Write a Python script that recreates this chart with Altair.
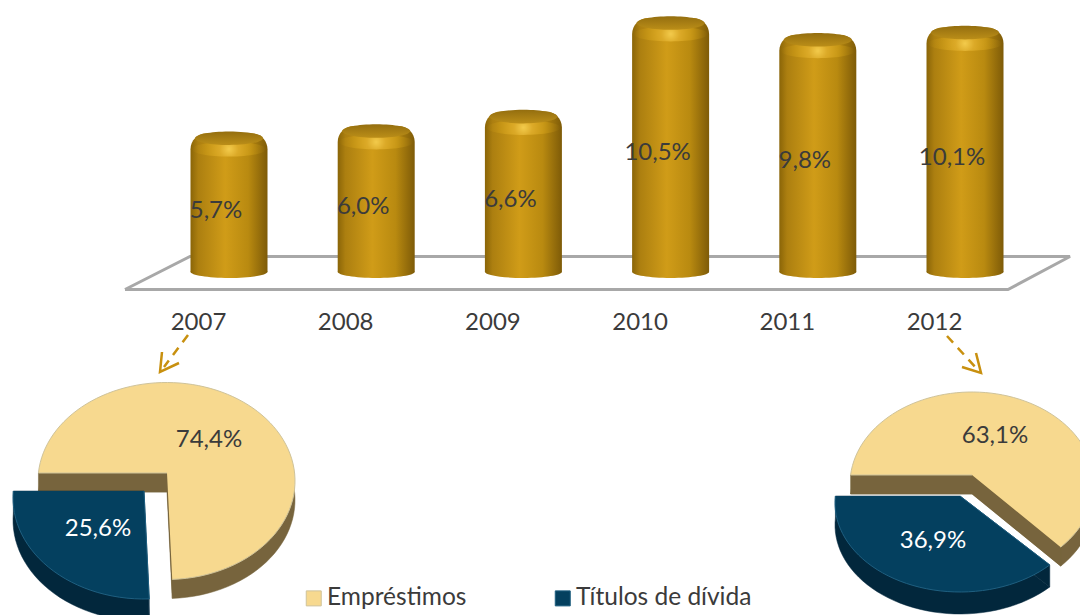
import math
import altair as alt
import pandas as pd

# ---- values ----
years = [2007, 2008, 2009, 2010, 2011, 2012]
rates = [5.7, 6.0, 6.6, 10.5, 9.8, 10.1]
rate_labels = ["5,7%", "6,0%", "6,6%", "10,5%", "9,8%", "10,1%"]
series_names = ["Empréstimos", "Títulos de dívida"]
shares_2007 = [74.4, 25.6]
shares_2012 = [63.1, 36.9]

# ---- layout (screen pixels of the picture) ----
W, H = 1072, 607
FONT = "Lato"
TXT = "#3b3b3b"
YEAR_DOMAIN = [2005.4986, 2012.7812]
RATE_DOMAIN = [-14.5, 10.7917]
pie_layout = [
    # shares, light slice ellipse, dark slice ellipse: (cx, cy, rx, ry, apex_x, apex_y)
    (shares_2007, (166.5, 481, 128.5, 98.5, 167, 473), (144, 498, 131, 101, 144, 491)),
    (shares_2012, (972, 484, 122, 92, 972, 475), (960, 503, 125, 89, 960, 496)),
]
DEPTHS = [19, 22]


def outline(geo, a0, sweep):
    cx, cy, rx, ry, ax, ay = geo
    n = max(2, int(abs(sweep) / 3))
    pts = [(ax, ay)]
    a = (ax - cx) / rx
    b = (ay - cy) / ry
    for k in range(n + 1):
        t = math.radians(a0 + sweep * k / n)
        dx, dy = math.sin(t), -math.cos(t)
        q = a * dx + b * dy
        s = -q + math.sqrt(q * q - (a * a + b * b - 1))
        pts.append((ax + rx * s * dx, ay + ry * s * dy))
    return pts


faces, walls = [], []
for p, (shares, light, dark) in enumerate(pie_layout):
    sweep_light = shares[0] * 3.6
    sl = outline(light, 270, sweep_light)
    sd = outline(dark, 270 + sweep_light - 360, shares[1] * 3.6)
    for name, pts, depth in ((series_names[0], sl, DEPTHS[0]), (series_names[1], sd, DEPTHS[1])):
        part = f"{p}-{name}"
        for i, (x, y) in enumerate(pts):
            faces.append(dict(x=x, y=y, i=i, part=part, series=name))
            walls.append(dict(x=x, y=y + depth, i=i, part=part + "-b", series=name))
        for tag, e in (("s", pts[1]), ("e", pts[-1])):
            quad = [pts[0], e, (e[0], e[1] + depth), (pts[0][0], pts[0][1] + depth)]
            for i, (x, y) in enumerate(quad):
                walls.append(dict(x=x, y=y, i=i, part=part + tag, series=name))
faces = pd.DataFrame(faces)
walls = pd.DataFrame(walls)

px_x = alt.X("x:Q", scale=alt.Scale(domain=[8, 8 + W], nice=False, zero=False), axis=None)
px_y = alt.Y("y:Q", scale=alt.Scale(domain=[8 + H, 8], nice=False, zero=False), axis=None)

# ---- floor ----
floor = pd.DataFrame(dict(x=[125, 190, 1070, 1008, 125], y=[289.5, 256.5, 256.5, 289.5, 289.5], i=range(5)))
floor_layer = alt.Chart(floor).mark_line(color="#a8a8a8", strokeWidth=3, strokeJoin="miter").encode(
    x=px_x, y=px_y, order="i:Q")

# ---- cylinders ----
bars = pd.DataFrame(dict(year=years, rate=rates, label=rate_labels))
year_scale = alt.Scale(domain=YEAR_DOMAIN, nice=False, zero=False, padding=0)
rate_scale = alt.Scale(domain=RATE_DOMAIN, nice=False, zero=False)
X = alt.X("year:Q", scale=year_scale, axis=None)
Y = alt.Y("rate:Q", scale=rate_scale, axis=None)
body_fill = alt.LinearGradient(
    gradient="linear", x1=0, x2=1, y1=0, y2=0,
    stops=[alt.GradientStop(offset=0, color="#8a6508"),
           alt.GradientStop(offset=0.1, color="#ac7f10"),
           alt.GradientStop(offset=0.45, color="#d09c18"),
           alt.GradientStop(offset=0.75, color="#b98a10"),
           alt.GradientStop(offset=1, color="#7e5b08")])


def ellipse(aspect):
    return f"M-1,0A1,{aspect},0,1,1,1,0A1,{aspect},0,1,1,-1,0Z"


body = alt.Chart(bars).mark_bar(width=77, fill=body_fill, cornerRadiusTopLeft=16, cornerRadiusTopRight=16,
                                yOffset=3).encode(
    x=X, y=Y, y2=alt.datum(-0.2))
bottom = alt.Chart(bars).mark_point(shape=ellipse(0.16), size=5929, filled=True, fill=body_fill, opacity=1,
                                    strokeWidth=0).encode(
    x=X, y=alt.Y("base:Q", scale=rate_scale, axis=None)
).transform_calculate(base="-0.2")
shoulder = alt.Chart(bars).mark_point(
    shape=ellipse(0.2), size=5476, filled=True, opacity=1, strokeWidth=0, yOffset=19,
    fill=alt.RadialGradient(gradient="radial", x1=0.5, y1=0.5, x2=0.5, y2=0.5, r1=0, r2=0.5,
                            stops=[alt.GradientStop(offset=0, color="#f3cb4c"),
                                   alt.GradientStop(offset=0.25, color="#dcaa28"),
                                   alt.GradientStop(offset=0.65, color="rgba(210,160,24,0.45)"),
                                   alt.GradientStop(offset=1, color="rgba(200,150,20,0)")])
).encode(x=X, y=Y)
top_face = alt.Chart(bars).mark_point(
    shape=ellipse(0.2), size=4624, filled=True, opacity=1, strokeWidth=0, yOffset=8,
    fill=alt.LinearGradient(gradient="linear", x1=0, x2=0, y1=0, y2=1,
                            stops=[alt.GradientStop(offset=0, color="#946e0f"),
                                   alt.GradientStop(offset=1, color="#bb8e18")])
).encode(x=X, y=Y)
bar_text = alt.Chart(bars).mark_text(fontSize=24, font=FONT, color=TXT, dx=-13, dy=12, baseline="middle").encode(
    x=X, y=alt.Y("mid:Q", scale=rate_scale, axis=None),
    text="label:N").transform_calculate(mid="datum.rate / 2")
axis_layer = alt.Chart(bars).mark_point(opacity=0).encode(
    x=alt.X("year:Q", scale=year_scale,
            axis=alt.Axis(values=years, format="d", title=None, domain=False, ticks=False, grid=False,
                          labelFont=FONT, labelFontSize=24, labelColor=TXT, labelPadding=0,
                          labelOffset=-31, offset=-305, labelFlush=False, labelOverlap=False)),
)

# ---- dashed arrows ----
shafts = pd.DataFrame(dict(x=[188, 164, 947, 978], y=[335, 367, 336, 370], i=[0, 1, 0, 1],
                           part=["a", "a", "b", "b"]))
heads = pd.DataFrame(dict(
    x=[162, 160, 179, 976, 981, 962], y=[352, 372, 363, 353, 373, 367], i=[0, 1, 2, 0, 1, 2],
    part=["a", "a", "a", "b", "b", "b"]))
shaft_layer = alt.Chart(shafts).mark_line(color="#c8900f", strokeWidth=2.5, strokeDash=[9, 7]).encode(
    x=px_x, y=px_y, order="i:Q", detail="part:N")
head_layer = alt.Chart(heads).mark_line(color="#c8900f", strokeWidth=2.5).encode(
    x=px_x, y=px_y, order="i:Q", detail="part:N")

# ---- pies ----
wall_light = alt.Chart(walls[walls.series == series_names[0]]).mark_line(
    filled=True, fill="#77643d", stroke="#77643d", strokeWidth=0.5).encode(
    x=px_x, y=px_y, order="i:Q", detail="part:N")
wall_dark = alt.Chart(walls[walls.series == series_names[1]]).mark_line(
    filled=True, fill="#02273c", stroke="#02273c", strokeWidth=0.5).encode(
    x=px_x, y=px_y, order="i:Q", detail="part:N")
face_layer = alt.Chart(faces).mark_line(filled=True, strokeWidth=1).encode(
    x=px_x, y=px_y, order="i:Q", detail="part:N",
    stroke=alt.Stroke("series:N", scale=alt.Scale(domain=series_names, range=["#cfc39a", "#1f5f80"]), legend=None),
    color=alt.Color("series:N",
                    scale=alt.Scale(domain=series_names, range=["#f7d98f", "#04405f"]),
                    legend=alt.Legend(orient="none", legendX=293.5, legendY=578, direction="horizontal",
                                      columns=2, title=None, symbolType="square", symbolSize=225,
                                      symbolStrokeColor="#8f7a45", symbolStrokeWidth=1,
                                      labelFont=FONT, labelFontSize=24.5, labelColor=TXT, labelOffset=1,
                                      labelLimit=400, columnPadding=84, padding=0)))

pie_text = pd.DataFrame(dict(
    x=[209, 98, 995, 933], y=[440, 529, 436, 541],
    label=["74,4%", "25,6%", "63,1%", "36,9%"],
    ink=[TXT, "#ffffff", TXT, "#ffffff"]))
pie_text_layer = alt.Chart(pie_text).mark_text(fontSize=24, font=FONT, baseline="middle").encode(
    x=px_x, y=px_y, text="label:N", color=alt.Color("ink:N", scale=None))

chart = alt.layer(
    floor_layer, body, bottom, shoulder, top_face, bar_text, axis_layer,
    shaft_layer, head_layer, wall_light, wall_dark, face_layer, pie_text_layer
).resolve_scale(x="independent", y="independent", color="independent", stroke="independent").properties(
    width=W, height=H, padding=0, autosize="none", background="#ffffff"
).configure_view(strokeWidth=0)

chart.save("out.html", embed_options={"renderer": "svg", "actions": False})
